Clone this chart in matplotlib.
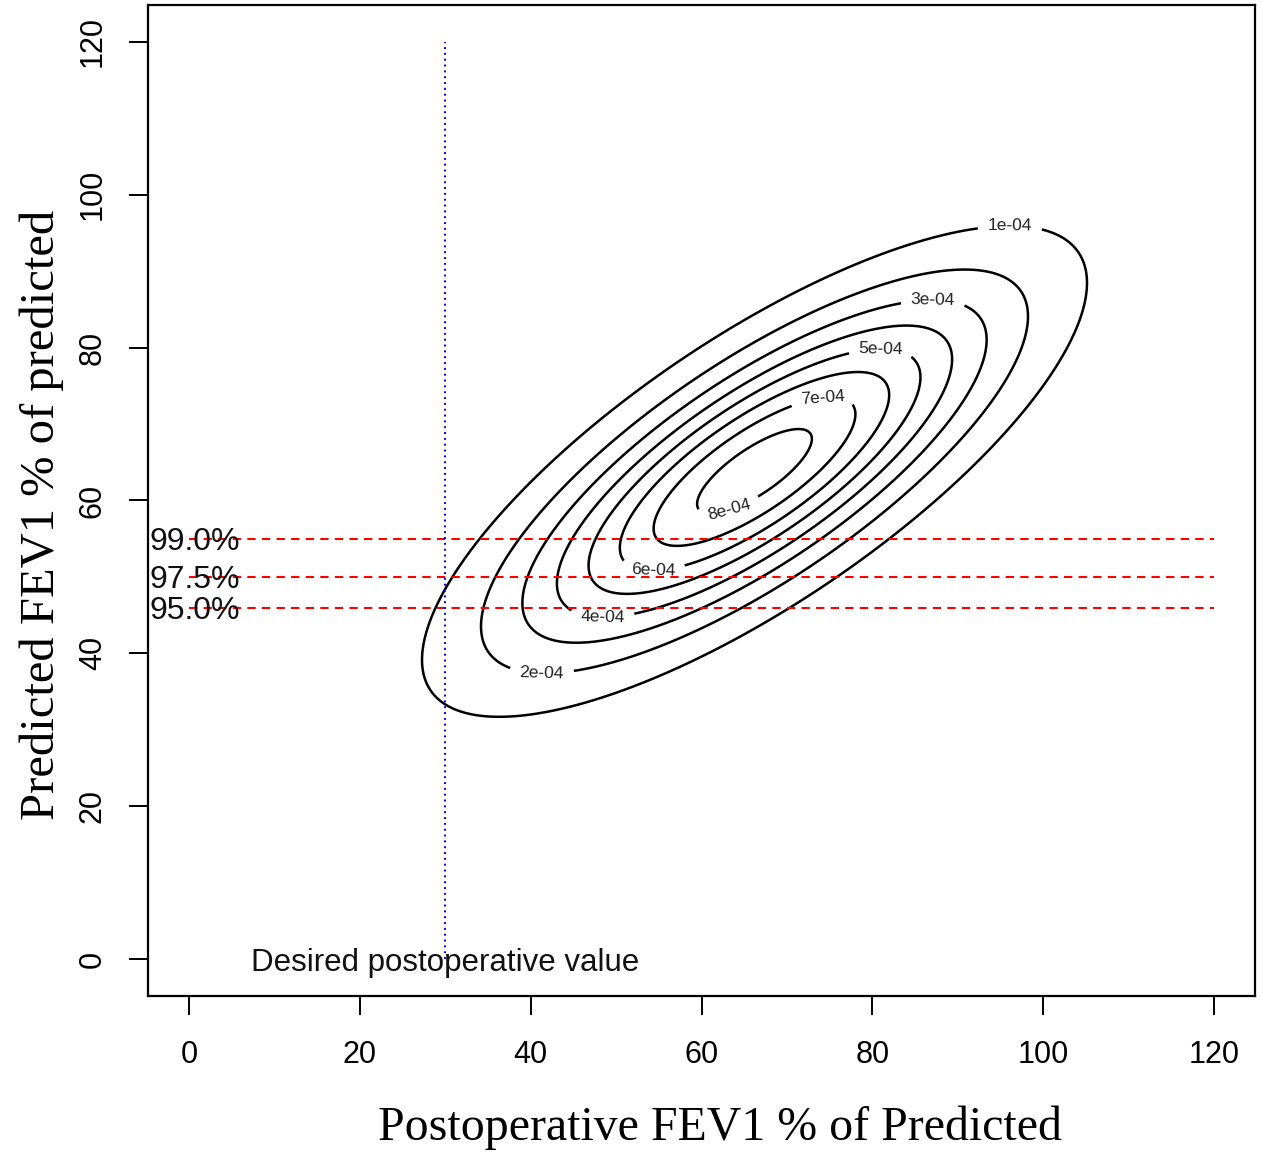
import numpy as np
import matplotlib
matplotlib.use("Agg")
import matplotlib.pyplot as plt

# bivariate normal fitted to the picture
mean_x, mean_y = 66.2, 63.8
sd_x, sd_y = 18.8, 15.5
rho = 0.768

levels = [1e-4, 2e-4, 3e-4, 4e-4, 5e-4, 6e-4, 7e-4, 8e-4]
label_pos = [(96.1, 95.8), (41.3, 37.4), (87.1, 86.0), (48.4, 45.0),
             (81.0, 79.3), (54.3, 51.5), (74.3, 72.5), (63.0, 59.5)]

pct_values = [55, 50, 46]
pct_labels = ["99.0%", "97.5%", "95.0%"]

desired_x = 30
ticks = [0, 20, 40, 60, 80, 100, 120]

sans = "Liberation Sans"
serif = "Liberation Serif"

x = np.linspace(-5, 125, 521)
y = np.linspace(-5, 125, 521)
X, Y = np.meshgrid(x, y)
zx = (X - mean_x) / sd_x
zy = (Y - mean_y) / sd_y
Q = (zx ** 2 - 2 * rho * zx * zy + zy ** 2) / (1 - rho ** 2)
Z = np.exp(-Q / 2) / (2 * np.pi * sd_x * sd_y * np.sqrt(1 - rho ** 2))

fig = plt.figure(figsize=(12.62, 11.53), dpi=100)
ax = fig.add_axes([0.1173, 0.1362, 0.8772, 0.8595])

cs = ax.contour(X, Y, Z, levels=levels, colors="black", linewidths=1.8)
lbls = ax.clabel(cs, levels, inline=True, inline_spacing=7, fontsize=12.5,
                 fmt=lambda v: f"{v:.0e}", manual=label_pos)
for t in lbls:
    t.set_family(sans)
    t.set_color("#222222")

for v in pct_values:
    ax.plot([0, 120], [v, v], color="red", linestyle=(0, (4, 3)), linewidth=1.5)
for v, s in zip(pct_values, pct_labels):
    ax.text(0.7, v, s, ha="center", va="center_baseline", fontsize=23,
            family=sans, color="#111111")

ax.plot([desired_x, desired_x], [0, 120], color="blue", linestyle=(0, (1, 2)), linewidth=1.4)
ax.text(desired_x, 0, "Desired postoperative value", ha="center", va="center_baseline",
        fontsize=22.5, family=sans, color="#111111")

ax.set_xlim(-4.8, 124.8)
ax.set_ylim(-4.8, 124.8)
ax.set_xticks(ticks)
ax.set_yticks(ticks)
ax.tick_params(direction="out", length=14, width=1.4, labelsize=22)
ax.tick_params(axis="x", pad=18)
ax.tick_params(axis="y", pad=15)
for lab in ax.get_xticklabels():
    lab.set_family(sans)
for lab in ax.get_yticklabels():
    lab.set_family(sans)
    lab.set_rotation(90)
    lab.set_va("center")
for sp in ax.spines.values():
    sp.set_linewidth(1.6)

ax.set_xlabel("Postoperative FEV1 % of Predicted", family=serif, fontsize=34.5, labelpad=25)
ax.set_ylabel("Predicted FEV1 % of predicted", family=serif, fontsize=35, labelpad=10)
ax.xaxis.label.set_x(0.517)
ax.yaxis.label.set_y(0.485)

fig.savefig("out.png", dpi=100)
